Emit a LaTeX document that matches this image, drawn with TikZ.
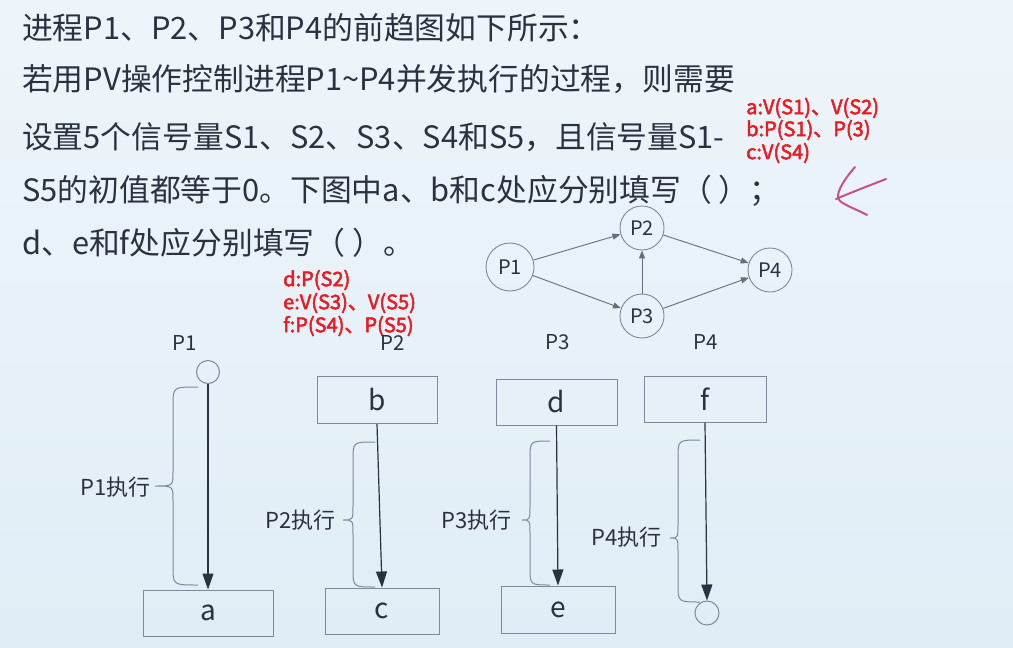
\documentclass[tikz,border=0pt]{standalone}
\usepackage{fontspec}
\setmainfont{Noto Sans CJK SC}
\newfontfamily\redfont[FakeBold=2.6]{Noto Sans CJK SC}
\usetikzlibrary{arrows.meta}
\definecolor{bgtop}{HTML}{EEF5FA}
\definecolor{bgbot}{HTML}{E0EDF6}
\definecolor{ink}{HTML}{2C3142}
\definecolor{edgec}{HTML}{7F889C}
\definecolor{ans}{HTML}{E81C22}
\definecolor{tick}{HTML}{C8508A}
\newcommand\procbrace[6]{%
  \draw[brc] (#1,#4) .. controls (#2,#4) .. (#2,{#4+18}) -- (#2,{#6-14})
    .. controls (#2,#6) .. (#3,#6) .. controls (#2,#6) .. (#2,{#6+14})
    -- (#2,{#5-18}) .. controls (#2,#5) .. (#1,#5);}
\begin{document}
\begin{tikzpicture}[x=1pt,y=-1pt,
  txt/.style={anchor=west,inner sep=0pt,text=ink,font=\fontsize{30.8}{31}\selectfont},
  answ/.style={anchor=west,inner sep=0pt,text=ans,font=\redfont\fontsize{20}{20}\selectfont},
  pnode/.style={circle,draw=edgec,line width=0.9pt,minimum size=44pt,inner sep=0pt,text=ink,font=\fontsize{20}{20}\selectfont},
  parr/.style={draw=edgec!80!black,line width=0.9pt,-{Triangle[length=8pt,width=6pt]}},
  lbl/.style={text=ink,font=\fontsize{20.5}{21}\selectfont,inner sep=0pt},
  box/.style={draw=edgec,line width=1pt,rectangle,inner sep=0pt,text=ink,font=\fontsize{28}{28}\selectfont},
  dotc/.style={circle,draw=edgec,line width=1pt,inner sep=0pt},
  arr/.style={draw=ink,line width=1.2pt,-{Triangle[length=16pt,width=11pt]}},
  brc/.style={draw=edgec,line width=1pt},
  exe/.style={anchor=east,text=ink,font=\fontsize{22}{22}\selectfont,inner sep=0pt}]
\shade[top color=bgtop,bottom color=bgbot] (0,0) rectangle (1013,648);
\useasboundingbox (0,0) rectangle (1013,648);

% question text
\node[txt] (l1) at (22,28) {进程P1、P2、P3和P4的前趋图如下所示：};
\node[txt] (l2) at (22,79) {若用PV操作控制进程P1\textasciitilde{}P4并发执行的过程，则需要};
\node[txt] (l3) at (22,137) {设置5个信号量S1、S2、S3、S4和S5，且信号量S1-};
\node[txt] (l4) at (22,191) {S5的初值都等于0。下图中a、b和c处应分别填写（ ）；};
\node[txt] (l5) at (22,243) {d、e和f处应分别填写（ ）。};

% answers
\node[answ] (ra) at (746,108) {a:V(S1)、V(S2)};
\node[answ] (rb) at (746,130) {b:P(S1)、P(3)};
\node[answ] (rc) at (746,153) {c:V(S4)};
\node[answ] (rd) at (283,280) {d:P(S2)};
\node[answ] (re) at (283,303) {e:V(S3)、V(S5)};
\node[answ] (rf) at (283,326) {f:P(S4)、P(S5)};

% hand mark
\draw[tick,line width=2pt,line cap=round] (855,167) .. controls (842,182) and (834,196) .. (840,201) .. controls (846,206) and (858,210) .. (867,215);
\draw[tick,line width=2pt,line cap=round] (886,179) .. controls (868,186) and (850,193) .. (836,199);

% precedence graph
\node[pnode,minimum size=48pt] (p1) at (510,267) {P1};
\node[pnode] (p2) at (642,228) {P2};
\node[pnode] (p3) at (642,316) {P3};
\node[pnode] (p4) at (770,270) {P4};
\draw[parr] (p1) -- (p2);
\draw[parr] (p1) -- (p3);
\draw[parr] (p3) -- (p2);
\draw[parr] (p2) -- (p4);
\draw[parr] (p3) -- (p4);

% process labels
\node[lbl] (t1) at (185,343) {P1};
\node[lbl] (t2) at (393,343) {P2};
\node[lbl] (t3) at (558,342) {P3};
\node[lbl] (t4) at (706,342) {P4};

% P1
\node[dotc,minimum size=23pt] (s1) at (208,372) {};
\node[box,minimum width=130pt,minimum height=46pt] (a) at (208,613) {a};
\draw[arr] (s1.south) -- (a.north);
\procbrace{198}{173}{155}{387}{585}{486}
\node[exe] (e1) at (151,487) {P1执行};

% P2
\node[box,minimum width=120pt,minimum height=47pt] (b) at (377,400) {b};
\node[box,minimum width=114pt,minimum height=46pt] (c) at (382,611) {c};
\draw[arr] (b.south) -- (c.north);
\procbrace{375}{353}{343}{442}{587}{520}
\node[exe] (e2) at (336,520) {P2执行};

% P3
\node[box,minimum width=121pt,minimum height=46pt] (d) at (556.5,402) {d};
\node[box,minimum width=114pt,minimum height=47pt] (e) at (558,609.5) {e};
\draw[arr] (d.south) -- (e.north);
\procbrace{550}{530}{522}{441}{585}{520}
\node[exe] (e3) at (512,520) {P3执行};

% P4
\node[box,minimum width=122pt,minimum height=46pt] (f) at (705,399) {f};
\node[dotc,minimum size=24pt] (s4) at (707,613) {};
\draw[arr] (f.south) -- (s4.north);
\procbrace{700}{678}{670}{440}{602}{538}
\node[exe] (e4) at (662,537) {P4执行};
\end{tikzpicture}
\end{document}
